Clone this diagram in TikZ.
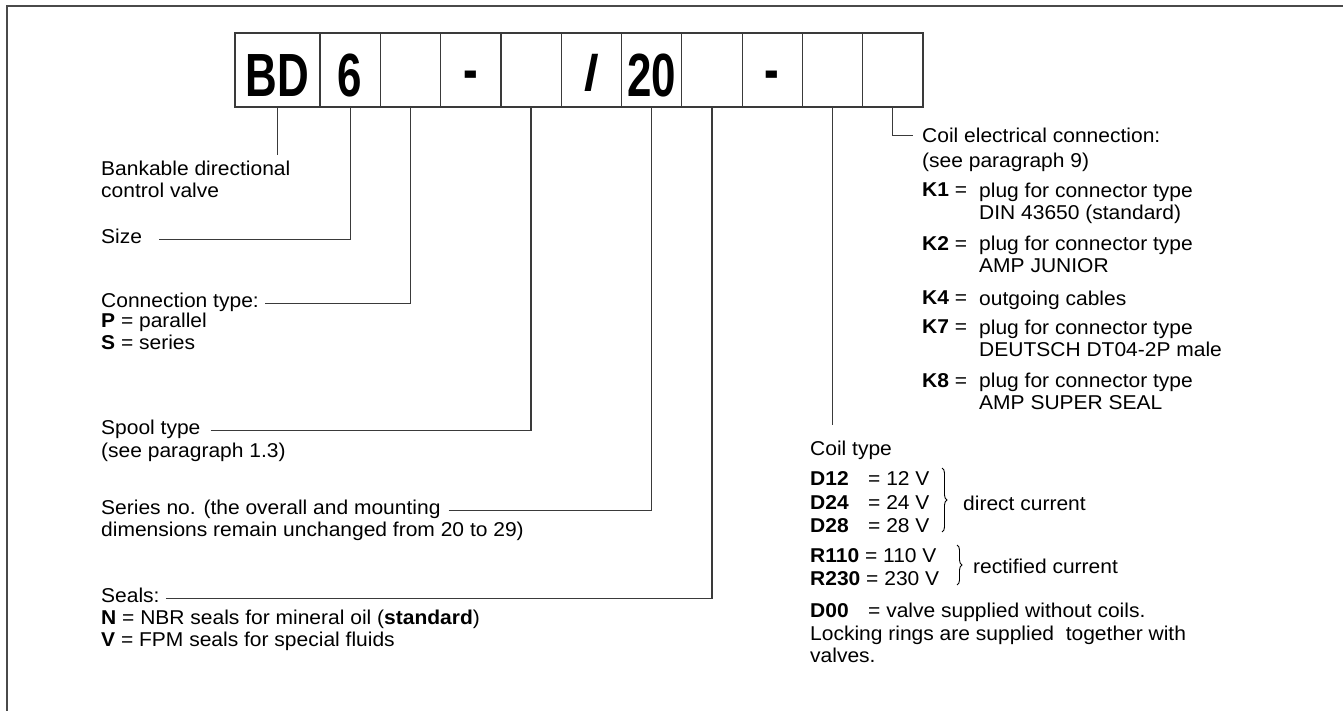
\documentclass[tikz,border=0pt]{standalone}
\usepackage{fontspec}
\setmainfont{Liberation Sans}[FakeStretch=1.05]
\newfontfamily\boxfont{Liberation Sans Bold}[FakeStretch=0.72]
\usetikzlibrary{positioning,decorations.pathreplacing}

\definecolor{framegray}{HTML}{4A4A4A}
\definecolor{linegray}{HTML}{3A3A3A}

\newcommand{\dashsign}{\raisebox{6pt}{-}}
\newcommand{\slashsign}{\raisebox{6pt}{\normalfont\bfseries\fontsize{50}{50}\selectfont /}}

\tikzset{
  cell/.style  = {draw=linegray, line width=1.2pt, minimum height=74pt,
                  minimum width=60.3pt, inner sep=0pt, text height=54pt,
                  text depth=0pt, font=\boxfont\fontsize{61}{61}\selectfont},
  lbl/.style   = {anchor=north west, inner sep=0pt, align=left,
                  font=\fontsize{20}{22}\selectfont},
  lead/.style  = {draw=linegray, line width=1.2pt},
  curly/.style = {decorate, decoration={brace, amplitude=5pt}, line width=0.9pt}
}

\begin{document}
\begin{tikzpicture}[x=1pt, y=-1pt]
  \useasboundingbox (0,0) rectangle (1343,711);
  \draw[framegray, line width=2pt] (7,6) rectangle (1400,760);

  %--- code boxes ---
  \node[cell, minimum width=85pt] (b1) at (277.5,70) {BD};
  \foreach \t [count=\i from 2] in {6,{},\dashsign,{},\slashsign,20,{},\dashsign,{},{}}
    \node[cell] (b\i) at ({320+(\i-1.5)*60.3},70) {\t};

  %--- left column ---
  \node[lbl] (bank)    at (101,161) {Bankable directional\\control valve};
  \node[lbl] (size)    at (101,229) {Size};
  \node[lbl] (conn)    at (101,293) {Connection type:};
  \node[lbl] (connv)   at (101,313) {\textbf{P} = parallel\\\textbf{S} = series};
  \node[lbl] (spool)   at (101,420) {Spool type};
  \node[lbl] (spoolv)  at (101,443) {(see paragraph 1.3)};
  \node[lbl] (series)  at (101,500) {Series no. (the overall and mounting};
  \node[lbl] (seriesv) at (101,522) {dimensions remain unchanged from 20 to 29)};
  \node[lbl] (seals)   at (101,588) {Seals:};
  \node[lbl] (sealsv)  at (101,610) {\textbf{N} = NBR seals for mineral oil (\textbf{standard})\\
                                     \textbf{V} = FPM seals for special fluids};

  %--- leaders, left ---
  \draw[lead] (b1.south) -- ([yshift=6pt]b1.south |- bank.north);
  \draw[lead] ([xshift=17pt,yshift=4pt]size.base east) -| (b2.south);
  \draw[lead] ([xshift=6pt,yshift=4pt]conn.base east) -| (b3.south);
  \draw[lead] ([xshift=10pt,yshift=4pt]spool.base east) -| (b5.south);
  \draw[lead] ([xshift=8pt,yshift=4pt]series.base east) -| (b7.south);
  \draw[lead] ([xshift=6pt,yshift=4pt]seals.base east) -| (b8.south);

  %--- coil electrical connection ---
  \node[lbl] (coilcon)  at (922,128) {Coil electrical connection:};
  \node[lbl] (coilconv) at (922,153) {(see paragraph 9)};
  \draw[lead] (b11.south) |- ([xshift=-9pt]coilcon.west);

  \node[lbl] (k1)  at (922,183) {\textbf{K1} =};
  \node[lbl] (k1v) at (979,183) {plug for connector type\\DIN 43650 (standard)};
  \node[lbl] (k2)  at (922,236) {\textbf{K2} =};
  \node[lbl] (k2v) at (979,236) {plug for connector type\\AMP JUNIOR};
  \node[lbl] (k4)  at (922,291) {\textbf{K4} =};
  \node[lbl] (k4v) at (979,291) {outgoing cables};
  \node[lbl] (k7)  at (922,320) {\textbf{K7} =};
  \node[lbl] (k7v) at (979,320) {plug for connector type\\DEUTSCH DT04-2P male};
  \node[lbl] (k8)  at (922,373) {\textbf{K8} =};
  \node[lbl] (k8v) at (979,373) {plug for connector type\\AMP SUPER SEAL};

  %--- coil type ---
  \node[lbl] (coiltype) at (810,441) {Coil type};
  \draw[lead] (b10.south) -- ([yshift=16pt]b10.south |- coiltype.north);

  \foreach \k/\v/\y in {D12/12/471, D24/24/495, D28/28/518} {
    \node[lbl] (\k)  at (810,\y) {\textbf{\k}};
    \node[lbl] (v\k) at (868,\y) {= \v~V};
  }
  \draw[curly] (942,468) -- (942,532);
  \node[lbl, anchor=west] (dc) at (963,503) {direct current};

  \node[lbl] (r110) at (810,548) {\textbf{R110} = 110~V};
  \node[lbl] (r230) at (810,571) {\textbf{R230} = 230~V};
  \draw[curly] (957,545) -- (957,585);
  \node[lbl, anchor=west] (rc) at (973,566) {rectified current};

  \node[lbl] (d00)  at (810,603) {\textbf{D00}};
  \node[lbl] (vd00) at (868,603) {= valve supplied without coils.};
  \node[lbl] (lock) at (810,626) {Locking rings are supplied \ together with\\valves.};
\end{tikzpicture}
\end{document}
